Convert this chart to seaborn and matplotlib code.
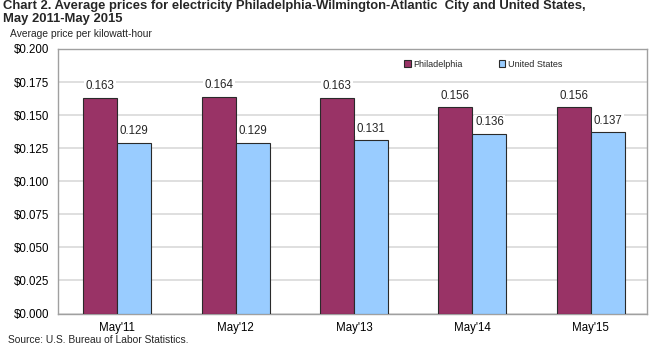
import matplotlib
matplotlib.use("Agg")
import matplotlib.pyplot as plt
import seaborn as sns
import pandas as pd
from matplotlib.ticker import FuncFormatter, MultipleLocator

periods = ["May'11", "May'12", "May'13", "May'14", "May'15"]
philadelphia = [0.163, 0.164, 0.163, 0.156, 0.156]
united_states = [0.129, 0.129, 0.131, 0.136, 0.137]
series_names = ["Philadelphia", "United States"]
colors = ["#993366", "#99CCFF"]

df = pd.DataFrame({
    "period": periods * 2,
    "price": philadelphia + united_states,
    "area": [series_names[0]] * len(periods) + [series_names[1]] * len(periods),
})

sns.set_style("white")
plt.rcParams["font.family"] = ["Liberation Sans", "DejaVu Sans"]

fig = plt.figure(figsize=(6.5, 3.46), dpi=100)
ax = fig.add_axes([0.0885, 0.0939, 0.907, 0.7645])

sns.barplot(data=df, x="period", y="price", hue="area", palette=colors,
            saturation=1, width=0.575, edgecolor="#2a2a2a", linewidth=0.8,
            ax=ax, zorder=3)

ax.set_xlim(-0.505, 4.475)
ax.set_ylim(0, 0.2)
ax.yaxis.set_major_locator(MultipleLocator(0.025))
ax.yaxis.set_major_formatter(FuncFormatter(lambda v, p: f"${v:.3f}"))
ax.grid(axis="y", color="#d9d9d9", linewidth=1.2, zorder=0)
ax.set_axisbelow(True)
for s in ax.spines.values():
    s.set_color("#a0a0a0")
    s.set_linewidth(1.0)
ax.tick_params(axis="both", labelsize=8.3, length=0, pad=6, colors="black")
ax.set_xlabel("")
ax.set_ylabel("")

for cont in ax.containers:
    labels = [f"{b.get_height():.3f}" for b in cont]
    ax.bar_label(cont, labels=labels, fontsize=8.3, padding=4,
                 bbox=dict(facecolor="white", edgecolor="none", pad=1))

leg = ax.legend(loc="upper right", ncol=2, frameon=False, fontsize=6.5,
                handlelength=0.7, handleheight=0.7, handletextpad=0.3,
                columnspacing=4.0, bbox_to_anchor=(0.870, 0.99))

fig.text(0.004, 0.999, "Chart 2. Average prices for electricity Philadelphia-Wilmington-Atlantic  City and United States,\nMay 2011-May 2015",
         ha="left", va="top", fontsize=9.4, fontweight="bold", linespacing=1.1)
fig.text(0.016, 0.903, "Average price per kilowatt-hour", ha="left", va="center", fontsize=7.35)
fig.text(0.012, 0.004, "Source: U.S. Bureau of Labor Statistics.", ha="left", va="bottom", fontsize=7.4)

fig.savefig("out.png", dpi=100)
